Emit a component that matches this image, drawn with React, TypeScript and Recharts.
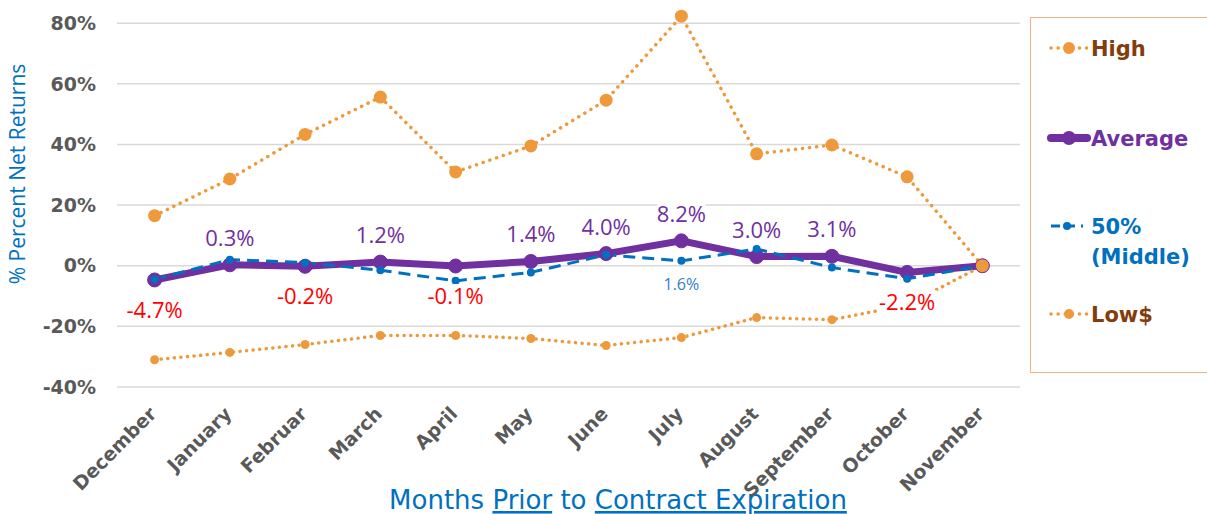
import React from 'react';
import { LineChart, Line, XAxis, YAxis, CartesianGrid, LabelList } from 'recharts';

const MONTHS = ['December', 'January', 'Februar', 'March', 'April', 'May', 'June', 'July', 'August', 'September', 'October', 'November'];
const HIGH = [16.5, 28.6, 43.3, 55.6, 30.9, 39.5, 54.6, 82.3, 36.9, 39.8, 29.3, 0];
const AVERAGE = [-4.7, 0.3, -0.2, 1.2, -0.1, 1.4, 4.0, 8.2, 3.0, 3.1, -2.2, 0];
const MIDDLE = [-4.5, 2.0, 1.0, -1.5, -5.0, -2.2, 3.6, 1.6, 5.5, -0.6, -4.3, 0];
const LOW = [-31.0, -28.6, -26.0, -23.0, -23.0, -24.0, -26.3, -23.7, -17.1, -17.8, -13.0, 0];
const Y_TICKS = [-40, -20, 0, 20, 40, 60, 80];
const MIDDLE_LABEL_AT = 'July';

const ORANGE = '#EE9A3C';
const PURPLE = '#7030A0';
const BLUE = '#0070C0';
const RED = '#FF0000';
const GRAY = '#595959';

const data = MONTHS.map((m, i) => ({
  month: m,
  high: HIGH[i],
  average: AVERAGE[i],
  middle: MIDDLE[i],
  low: LOW[i],
}));

const labelFont = "'Open Sans', sans-serif";
const boldFont = "'DejaVu Sans', sans-serif";

const MonthTick = (props: any) => {
  const { x, y, payload } = props;
  return (
    <g transform={`translate(${x + 3},${y + 20})`}>
      <text
        transform="rotate(-45)"
        textAnchor="end"
        fill={GRAY}
        fontSize={19}
        fontWeight="bold"
        fontFamily={boldFont}
      >
        {payload.value}
      </text>
    </g>
  );
};

const AverageLabel = (props: any) => {
  const { x, y, value, index } = props;
  if (index === MONTHS.length - 1) return null;
  const neg = value < 0;
  const text = `${value.toFixed(1)}%`;
  const cy = neg ? y + 30 : y - 27;
  const w = text.length * 12;
  return (
    <g>
      <rect x={x - w / 2} y={cy - 12} width={w} height={24} fill="#fff" />
      <text x={x} y={cy + 8} textAnchor="middle" fill={neg ? RED : PURPLE} fontSize={22} fontFamily={labelFont}>
        {text}
      </text>
    </g>
  );
};

const MiddleLabel = (props: any) => {
  const { x, y, value, index } = props;
  if (MONTHS[index] !== MIDDLE_LABEL_AT) return null;
  return (
    <text x={x} y={y + 29} textAnchor="middle" fill="#2E80C6" fontSize={16} fontFamily={labelFont}>
      {`${value.toFixed(1)}%`}
    </text>
  );
};

const XTitle = () => (
  <text x={618} y={509} textAnchor="middle" fill={BLUE} fontSize={26} fontFamily={boldFont}>
    Months{' '}
    <tspan style={{ textDecoration: 'underline' }}>Prior</tspan>
    {' '}to{' '}
    <tspan style={{ textDecoration: 'underline' }}>Contract Expiration</tspan>
  </text>
);

const YTitle = () => {
  const cx = 25;
  const cy = 174;
  return (
    <text
      x={cx}
      y={cy}
      transform={`rotate(-90, ${cx}, ${cy})`}
      textAnchor="middle"
      fill={BLUE}
      fontSize={21}
      fontFamily={labelFont}
    >
      % Percent Net Returns
    </text>
  );
};

const LegendIcon = ({ kind }: { kind: string }) => {
  if (kind === 'average') {
    return (
      <svg width={44} height={20}>
        <line x1={4} y1={10} x2={40} y2={10} stroke={PURPLE} strokeWidth={8} strokeLinecap="round" />
        <circle cx={22} cy={10} r={7} fill={PURPLE} />
      </svg>
    );
  }
  if (kind === 'middle') {
    return (
      <svg width={44} height={20}>
        <line x1={4} y1={10} x2={36} y2={10} stroke={BLUE} strokeWidth={3} strokeDasharray="9 6" />
        <circle cx={20} cy={10} r={4} fill={BLUE} />
      </svg>
    );
  }
  const r = kind === 'high' ? 6 : 5;
  return (
    <svg width={44} height={20}>
      <line x1={4} y1={10} x2={40} y2={10} stroke={ORANGE} strokeWidth={3.5} strokeDasharray="0.1 7" strokeLinecap="round" />
      <circle cx={22} cy={10} r={r} fill={ORANGE} />
    </svg>
  );
};

const legendItems = [
  { kind: 'high', text: ['High'], color: '#843C0C', top: 33 },
  { kind: 'average', text: ['Average'], color: PURPLE, top: 123 },
  { kind: 'middle', text: ['50%', '(Middle)'], color: BLUE, top: 211 },
  { kind: 'low', text: ['Low$'], color: '#843C0C', top: 299 },
];

const SideLegend = () => (
  <div
    style={{
      position: 'absolute',
      left: 1030,
      top: 17,
      width: 200,
      height: 356,
      border: '1.5px solid #F4B183',
      boxSizing: 'border-box',
    }}
  >
    {legendItems.map((it) => (
      <div key={it.kind} style={{ position: 'absolute', left: 16, top: it.top - 17, display: 'flex', alignItems: 'flex-start' }}>
        <div style={{ marginTop: 4 }}>
          <LegendIcon kind={it.kind} />
        </div>
        <div
          style={{
            color: it.color,
            fontFamily: boldFont,
            fontWeight: 'bold',
            fontSize: 21,
            lineHeight: '30px',
          }}
        >
          {it.text.map((t) => (
            <div key={t}>{t}</div>
          ))}
        </div>
      </div>
    ))}
  </div>
);

export default function App() {
  return (
    <div style={{ position: 'absolute', left: 0, top: 0, width: 1207, height: 514, background: '#fff' }}>
      <LineChart width={1207} height={514} data={data} margin={{ top: 11, right: 187, bottom: 0, left: 0 }}>
        <CartesianGrid vertical={false} horizontalValues={Y_TICKS} stroke="#D9D9D9" strokeWidth={1.5} />
        <XAxis
          dataKey="month"
          height={127}
          axisLine={false}
          tickLine={false}
          interval={0}
          padding={{ left: 37.6, right: 37.6 }}
          tick={<MonthTick />}
          label={<XTitle />}
        />
        <YAxis
          width={117}
          domain={[-40, 84]}
          ticks={Y_TICKS}
          axisLine={false}
          tickLine={false}
          tickSize={6}
          tickMargin={15}
          tickFormatter={(v: number) => `${v}%`}
          tick={{ fill: GRAY, fontSize: 19, fontWeight: 'bold', fontFamily: boldFont }}
          label={<YTitle />}
        />
        <Line
          dataKey="average"
          stroke={PURPLE}
          strokeWidth={7}
          dot={{ r: 7, fill: PURPLE, stroke: PURPLE, strokeWidth: 1 }}
          isAnimationActive={false}
        >
          <LabelList dataKey="average" content={<AverageLabel />} />
        </Line>
        <Line
          dataKey="middle"
          stroke={BLUE}
          strokeWidth={3}
          strokeDasharray="12 7"
          dot={{ r: 4, fill: BLUE, stroke: BLUE, strokeWidth: 0 }}
          isAnimationActive={false}
        >
          <LabelList dataKey="middle" content={<MiddleLabel />} />
        </Line>
        <Line
          dataKey="low"
          stroke={ORANGE}
          strokeWidth={3.5}
          strokeDasharray="0.1 6.5"
          strokeLinecap="round"
          dot={{ r: 4.5, fill: ORANGE, stroke: ORANGE, strokeWidth: 0 }}
          isAnimationActive={false}
        />
        <Line
          dataKey="high"
          stroke={ORANGE}
          strokeWidth={3.5}
          strokeDasharray="0.1 7"
          strokeLinecap="round"
          dot={{ r: 6.5, fill: ORANGE, stroke: ORANGE, strokeWidth: 0 }}
          isAnimationActive={false}
        />
      </LineChart>
      <SideLegend />
    </div>
  );
}
